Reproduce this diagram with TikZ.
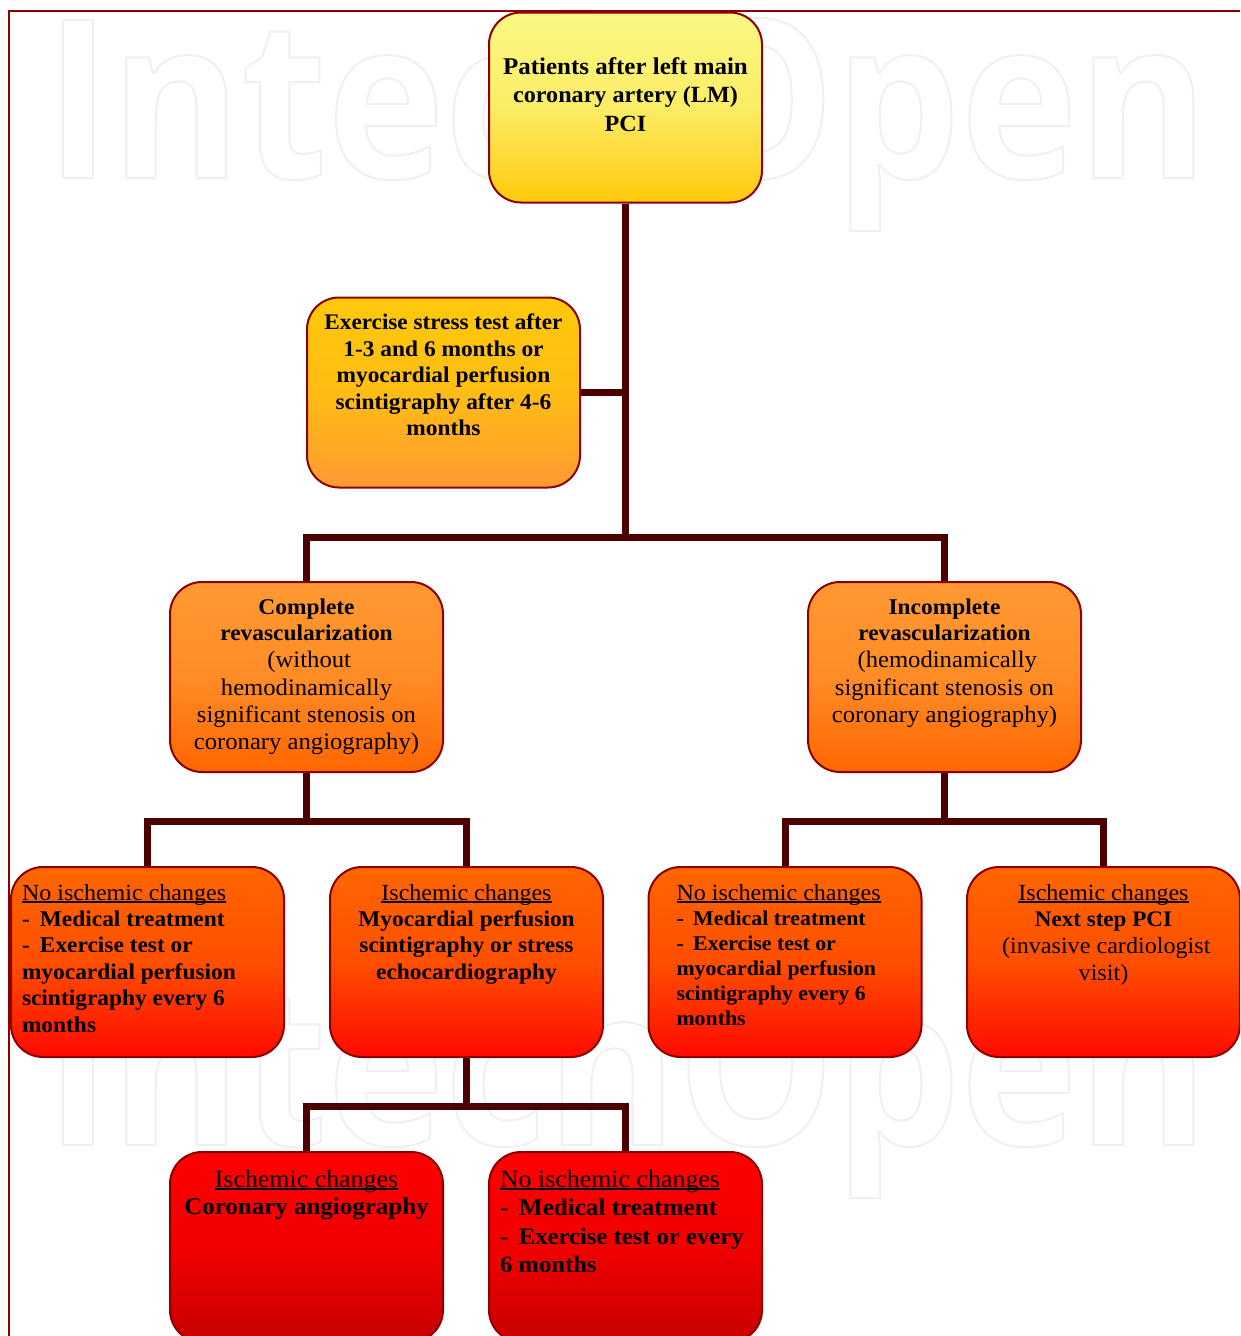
\documentclass[tikz,border=0pt]{standalone}
\usepackage{fontspec}
\setmainfont[FakeStretch=1.04]{Liberation Serif}
\newfontfamily\wmfont[FakeStretch=0.898]{Open Sans}
\definecolor{frameC}{HTML}{8B0000}
\definecolor{connC}{HTML}{4D0000}
\definecolor{c0}{HTML}{FAF884}
\definecolor{c1}{HTML}{FFC90A}
\definecolor{c2}{HTML}{FF9933}
\definecolor{c3}{HTML}{FF6600}
\definecolor{c4}{HTML}{FF0A00}
\definecolor{c5}{HTML}{FF0000}
\definecolor{c6}{HTML}{C80000}
\tikzset{
  flowbox/.style n args={2}{draw=frameC,line width=2pt,rounded corners=32pt,inner sep=0pt,
    minimum width=273pt,minimum height=190pt,top color=#1,bottom color=#2,middle color=#1!75!#2,text=black},
  conn/.style={draw=connC,line width=7pt,line cap=butt,line join=miter},
  wmark/.style={anchor=base west,inner sep=0pt,outer sep=0pt}
}
\newcommand\wm{\wmfont\bfseries\fontsize{221}{221}\selectfont\special{pdf:code q 1 Tr 1 j 2 w 0.94 0.94 0.94 RG}IntechOpen\special{pdf:code Q}}
% #1 distance of first baseline from top of box, #2 alignment, #3 body
\newcommand\bt[3]{\vbox to 190pt{\hsize=251pt \parindent=0pt \lineskiplimit=-100pt \parskip=0pt
  \vskip \dimexpr #1pt-20pt\relax #2\leavevmode\rule{0pt}{20pt}#3\par\vfil}}
\newcommand\fs[2]{\fontsize{#1}{#2}\selectfont}
\newcommand\ul[1]{{\setbox0\hbox{#1}\rlap{\rule[-2.6pt]{\wd0}{1.3pt}}\box0}}
\newcommand\dd{-\hskip 0.45em\relax}
\begin{document}
\begin{tikzpicture}[x=1pt,y=-1pt]
\useasboundingbox (0,0) rectangle (1240,1336);
\clip (0,0) rectangle (1240,1336);
\fill[white] (0,0) rectangle (1240,1336);
\node[wmark] (wma) at (45,178) {\wm};
\node[wmark] (wmb) at (45,1145) {\wm};
\coordinate (fa) at (9,1336);
\coordinate (fb) at (9,11);
\coordinate (fc) at (1240,11);
\draw[frameC,line width=2pt] (fa) -- (fb) -- (fc);
\coordinate (b1) at (0,537);
\coordinate (b2) at (0,821);
\coordinate (b3) at (0,1106.5);

\node[flowbox={c0}{c1}] (top) at (625.5,107.5) {\bt{62}{\centering}{\fs{24}{28.4}\bfseries Patients after left main\par\fs{23.2}{28.4} coronary artery (LM)\par PCI}};
\node[flowbox={c1}{c2}] (ex) at (443.5,392.5) {\bt{32}{\centering}{\fs{22.3}{26.6}\bfseries Exercise stress test after\par\fs{22.5}{26.6} 1-3 and 6 months or\par myocardial perfusion\par scintigraphy after 4-6\par months}};
\node[flowbox={c2}{c3}] (comp) at (306.5,677) {\bt{32}{\centering}{\fs{22.5}{26.6}\textbf{Complete}\par \textbf{revascularization}\par\fs{23.7}{27.2}\hspace*{5.5pt}(without\par hemodinamically\par significant stenosis on\par coronary angiography)}};
\node[flowbox={c2}{c3}] (inc) at (944.5,677) {\bt{32}{\centering}{\fs{22.5}{26.6}\textbf{Incomplete}\par \textbf{revascularization}\par\fs{23.7}{27.2}\hspace*{5.5pt}(hemodinamically\par significant stenosis on\par coronary angiography)}};
\node[flowbox={c3}{c4}] (a) at (147.5,962) {\bt{33}{\raggedright}{\fs{23.1}{26.4}\ul{No ischemic changes}\par\fs{22.5}{26.4}\textbf{\dd Medical treatment}\par\textbf{\dd Exercise test or}\par\textbf{myocardial perfusion}\par\textbf{scintigraphy every 6}\par\textbf{months}}};
\node[flowbox={c3}{c4}] (b) at (466.5,962) {\bt{33}{\centering}{\fs{23.1}{26.4}\ul{Ischemic changes}\par\fs{22.5}{26.4}\textbf{Myocardial perfusion}\par\textbf{scintigraphy or stress}\par\textbf{echocardiography}}};
\node[flowbox={c3}{c4}] (c) at (785,962) {\bt{33}{\raggedright\leftskip=17pt}{\fs{23.1}{23}\ul{No ischemic changes}\par\fs{21}{25}\textbf{\dd Medical treatment}\par\textbf{\dd Exercise test or}\par\textbf{myocardial perfusion}\par\textbf{scintigraphy every 6}\par\textbf{months}}};
\node[flowbox={c3}{c4}] (d) at (1103.5,962) {\bt{33}{\centering}{\fs{23.1}{26.4}\ul{Ischemic changes}\par\fs{22.2}{26.4}\textbf{Next step PCI}\par\fs{23.2}{27}\hspace*{5.5pt}(invasive cardiologist\par visit)}};
\node[flowbox={c5}{c6}] (e) at (306.5,1247) {\bt{35}{\centering}{\fs{24.9}{27}\ul{Ischemic changes}\par\fs{24}{27}\textbf{Coronary angiography}}};
\node[flowbox={c5}{c6}] (f) at (625.5,1247) {\bt{35}{\raggedright}{\fs{24.9}{28}\ul{No ischemic changes}\par\fs{24.1}{28.5}\textbf{\dd Medical treatment}\par\fs{23.7}{28.5}\textbf{\dd Exercise test or every}\par\textbf{6 months}}};

\draw[conn] (top.south) -- (top.south |- b1);
\draw[conn] (ex.east) -- (top.south |- ex.east);
\draw[conn] (top.south |- b1) -| (comp.north);
\draw[conn] (top.south |- b1) -| (inc.north);
\draw[conn] (comp.south) -- (comp.south |- b2);
\draw[conn] (comp.south |- b2) -| (a.north);
\draw[conn] (comp.south |- b2) -| (b.north);
\draw[conn] (inc.south) -- (inc.south |- b2);
\draw[conn] (inc.south |- b2) -| (c.north);
\draw[conn] (inc.south |- b2) -| (d.north);
\draw[conn] (b.south) -- (b.south |- b3);
\draw[conn] (b.south |- b3) -| (e.north);
\draw[conn] (b.south |- b3) -| (f.north);
\end{tikzpicture}
\end{document}
